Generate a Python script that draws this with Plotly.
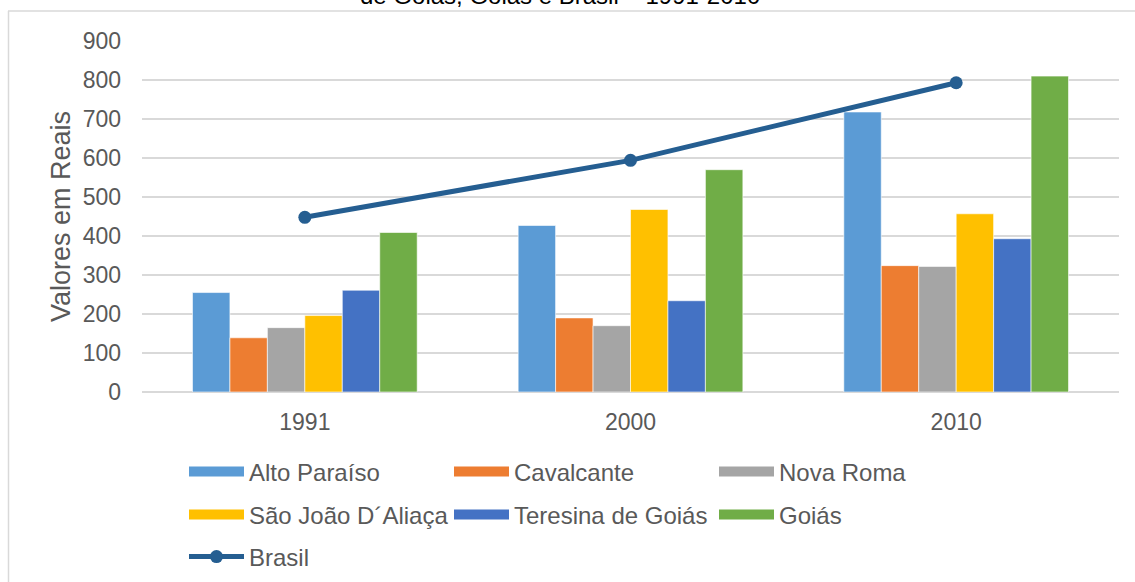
import plotly.graph_objects as go

years = ["1991", "2000", "2010"]
alto_paraiso = [255, 427, 718]
cavalcante = [139, 190, 324]
nova_roma = [165, 170, 322]
sao_joao = [196, 468, 457]
teresina = [261, 234, 393]
goias = [409, 570, 810]
brasil = [448, 594, 793]

series = [
    ("Alto Paraíso", alto_paraiso, "#5B9BD5", "legend"),
    ("Cavalcante", cavalcante, "#ED7D31", "legend"),
    ("Nova Roma", nova_roma, "#A5A5A5", "legend"),
    ("São João D´Aliaça", sao_joao, "#FFC000", "legend2"),
    ("Teresina de Goiás", teresina, "#4472C4", "legend2"),
    ("Goiás", goias, "#70AD47", "legend2"),
]

W, H = 1135, 582
L, R, T, B = 142, 16, 41, 190
pw, ph = W - L - R, H - T - B

def px_x(p):
    return (p - L) / pw

def px_y(p):
    return (H - B - p) / ph

def cx(p):
    return p / W

def cy(p):
    return 1 - p / H

FONT = "Liberation Sans, Arial, sans-serif"
TXT = "#595959"

fig = go.Figure()
for name, vals, color, lg in series:
    fig.add_trace(go.Bar(
        x=years, y=vals, name=name,
        marker=dict(color=color, line=dict(color="rgba(255,255,255,0.6)", width=1)),
        showlegend=False,
    ))
# legend swatches (wide rectangles like the original)
for name, vals, color, lg in series:
    fig.add_trace(go.Scatter(
        x=[None], y=[None], name=name, mode="lines",
        line=dict(color=color, width=12),
        legend=lg, hoverinfo="skip",
    ))

fig.add_trace(go.Scatter(
    x=years, y=brasil, name="Brasil", mode="lines+markers",
    line=dict(color="#255E91", width=5),
    marker=dict(color="#255E91", size=13),
    legend="legend3",
))

legend_common = dict(
    orientation="h", xanchor="left", yanchor="middle",
    xref="container", yref="container",
    font=dict(family=FONT, size=24, color=TXT),
    entrywidth=195, entrywidthmode="pixels", itemwidth=55,
    bgcolor="rgba(0,0,0,0)", itemclick=False, itemdoubleclick=False,
)

fig.update_layout(
    width=W, height=H,
    margin=dict(l=L, r=R, t=T, b=B, autoexpand=False),
    paper_bgcolor="white", plot_bgcolor="white",
    barmode="group", bargap=0.31, bargroupgap=0,
    font=dict(family=FONT, color=TXT),
    showlegend=True,
    legend=dict(x=cx(184), y=cy(472), **legend_common),
    legend2=dict(x=cx(184), y=cy(515), **legend_common),
    legend3=dict(x=cx(184), y=cy(557), **legend_common),
    xaxis=dict(
        type="category", showgrid=False, showline=False, zeroline=False,
        automargin=False,
        tickfont=dict(family=FONT, size=23, color=TXT),
        ticks="", ticklabelstandoff=14,
    ),
    yaxis=dict(
        range=[0, 900], dtick=100, tick0=0, automargin=False,
        showgrid=True, gridcolor="#D9D9D9", gridwidth=1.5,
        zeroline=True, zerolinecolor="#D9D9D9", zerolinewidth=1.5,
        showline=False,
        tickfont=dict(family=FONT, size=23, color=TXT),
        ticks="", ticklabelstandoff=20,
        title=dict(text="Valores em Reais", font=dict(family=FONT, size=27, color=TXT), standoff=4),
    ),
    annotations=[dict(
        text="de Goiás, Goiás e Brasil – 1991-2010",
        xref="paper", yref="paper", x=px_x(560), y=px_y(11),
        xanchor="center", yanchor="bottom", showarrow=False,
        font=dict(family=FONT, size=24, color="#000000"),
    )],
    shapes=[
        dict(type="line", xref="paper", yref="paper", x0=px_x(8), x1=px_x(1140),
             y0=px_y(11), y1=px_y(11), line=dict(color="#D9D9D9", width=1.5)),
        dict(type="line", xref="paper", yref="paper", x0=px_x(8.5), x1=px_x(8.5),
             y0=px_y(11), y1=px_y(590), line=dict(color="#D9D9D9", width=1.5)),
    ],
)

fig.write_html("out.html")
